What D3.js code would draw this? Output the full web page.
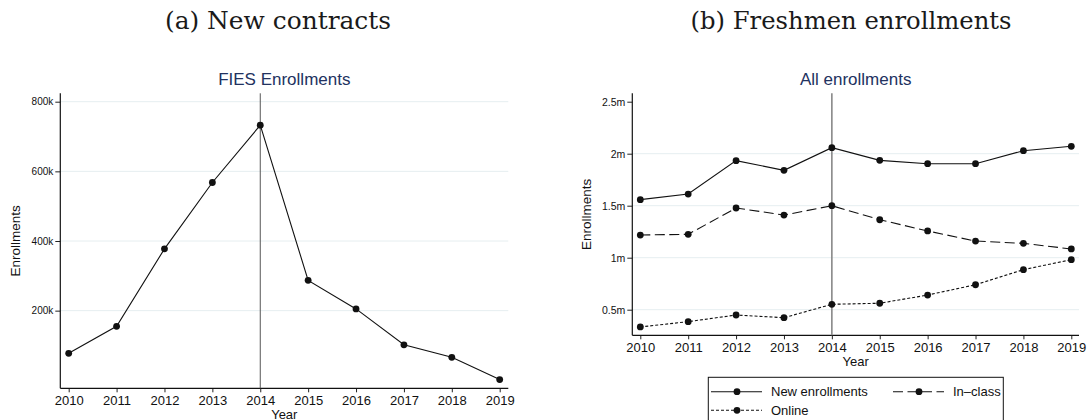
<!DOCTYPE html>
<html>
<head>
<meta charset="utf-8">
<style>
  body { margin: 0; background: white; }
  svg text { font-family: "Liberation Sans", Arial, sans-serif; fill: #111; }
</style>
</head>
<body>
<svg id="draw" width="1087" height="420"></svg>

<script src="https://cdn.jsdelivr.net/npm/d3@7/dist/d3.min.js"></script>

<script>
    var years = [2010, 2011, 2012, 2013, 2014, 2015, 2016, 2017, 2018, 2019];
    var fiesEnroll = [77500, 155000, 377500, 568000, 732500, 287000, 205000, 102000, 66000, 2000];
    var newEnroll = [1558000, 1612000, 1933000, 1840000, 2058000, 1936000, 1904000, 1904000, 2029000, 2071000];
    var inClass = [1218000, 1225000, 1478000, 1410000, 1500000, 1365000, 1257000, 1160000, 1138000, 1084000];
    var online = [334000, 385000, 449000, 423000, 552000, 562000, 641000, 740000, 885000, 981000];
    var leftTicks = [200000, 400000, 600000, 800000];
    var rightTicks = [500000, 1000000, 1500000, 2000000, 2500000];
    var rightGrid = [500000, 1000000, 1500000, 2000000];
    var eventYear = 2014;

    var titleColor = "#22325f";
    var gridColor = "#e6eef0";
    var markerR = 3.4;

    const svg = d3.select("svg#draw");

    // sub captions (latex style)
    svg.append("text").attr("x", 278).attr("y", 29).attr("text-anchor", "middle")
        .style("font-family", "'DejaVu Serif', serif").style("font-size", "23.5px")
        .style("fill", "#1a1a1a")
        .attr("textLength", 226).attr("lengthAdjust", "spacingAndGlyphs")
        .text("(a) New contracts");
    svg.append("text").attr("x", 851).attr("y", 29).attr("text-anchor", "middle")
        .style("font-family", "'DejaVu Serif', serif").style("font-size", "23.5px")
        .style("fill", "#1a1a1a")
        .attr("textLength", 321).attr("lengthAdjust", "spacingAndGlyphs")
        .text("(b) Freshmen enrollments");

    function panel(cfg) {
        var g = svg.append("g");
        var x = d3.scaleLinear().domain([2010, 2019]).range(cfg.xr);
        var y = d3.scaleLinear().domain(cfg.yd).range(cfg.yr);

        g.selectAll("line.grid").data(cfg.grid).enter().append("line")
            .attr("class", "grid")
            .attr("x1", cfg.left).attr("x2", cfg.right)
            .attr("y1", d => y(d)).attr("y2", d => y(d))
            .attr("stroke", gridColor).attr("stroke-width", 1);

        var yAxis = g.append("g")
            .attr("transform", `translate(${cfg.left},0)`)
            .call(d3.axisLeft(y).tickValues(cfg.ticks).tickFormat(cfg.fmt).tickSize(5).tickPadding(2));
        yAxis.select(".domain").remove();
        yAxis.selectAll("text").style("font-size", cfg.yFont).attr("fill", "#222")
            .style("font-family", "'Liberation Sans', Arial, sans-serif");
        yAxis.selectAll("line").attr("stroke", "#222");

        var xAxis = g.append("g")
            .attr("transform", `translate(0,${cfg.bottom})`)
            .call(d3.axisBottom(x).tickValues(years).tickFormat(d3.format("d")).tickSize(4).tickPadding(3));
        xAxis.select(".domain").remove();
        xAxis.selectAll("text").style("font-size", "13px").attr("fill", "#111")
            .style("font-family", "'Liberation Sans', Arial, sans-serif");
        xAxis.selectAll("line").attr("stroke", "#222");

        g.append("line")
            .attr("x1", cfg.left).attr("x2", cfg.left)
            .attr("y1", cfg.top).attr("y2", cfg.bottom)
            .attr("stroke", "#111").attr("stroke-width", 1.2);
        g.append("line")
            .attr("x1", cfg.left).attr("x2", cfg.right)
            .attr("y1", cfg.bottom).attr("y2", cfg.bottom)
            .attr("stroke", "#111").attr("stroke-width", 1.2);

        g.append("line")
            .attr("x1", x(eventYear)).attr("x2", x(eventYear))
            .attr("y1", cfg.top).attr("y2", cfg.bottom)
            .attr("stroke", cfg.vColor).attr("stroke-width", cfg.vWidth);

        var line = d3.line().x((d, i) => x(years[i])).y(d => y(d));
        cfg.series.forEach(s => {
            g.append("path")
                .datum(s.values)
                .attr("fill", "none")
                .attr("stroke", "#111")
                .attr("stroke-width", 1.1)
                .attr("stroke-dasharray", s.dash)
                .attr("d", line);
            g.selectAll(null).data(s.values).enter().append("circle")
                .attr("cx", (d, i) => x(years[i]))
                .attr("cy", d => y(d))
                .attr("r", markerR)
                .attr("fill", "#111");
        });

        g.append("text")
            .attr("x", (cfg.left + cfg.right) / 2).attr("y", 85)
            .attr("text-anchor", "middle")
            .style("font-size", "17px").attr("fill", titleColor).style("fill", titleColor)
            .text(cfg.title);
        g.append("text")
            .attr("x", (cfg.left + cfg.right) / 2).attr("y", Math.min(cfg.bottom + 31, 418.5))
            .attr("text-anchor", "middle")
            .style("font-size", "13px")
            .text("Year");
        g.append("text")
            .attr("transform", `translate(${cfg.ylabX},${(cfg.top + cfg.bottom) / 2}) rotate(-90)`)
            .attr("text-anchor", "middle")
            .attr("dy", "0.35em")
            .style("font-size", "13.5px")
            .text("Enrollments");
        return g;
    }

    panel({
        left: 60.3, right: 508.3, top: 93.3, bottom: 388.3,
        xr: [68.7, 499.7], yd: [0, 800000], yr: [380.3, 101.7],
        ticks: leftTicks, grid: leftTicks, fmt: d => d / 1000 + "k", yFont: "10px",
        vColor: "#555", vWidth: 1,
        title: "FIES Enrollments", ylabX: 15,
        series: [{ values: fiesEnroll, dash: null }]
    });

    panel({
        left: 632.3, right: 1079, top: 93.3, bottom: 335.3,
        xr: [640.3, 1071.3], yd: [0, 2500000], yr: [361.7, 101.7],
        ticks: rightTicks, grid: rightGrid, fmt: d => d / 1000000 + "m", yFont: "10.5px",
        vColor: "#888", vWidth: 1.6,
        title: "All enrollments", ylabX: 586.7,
        series: [
            { values: newEnroll, dash: null },
            { values: inClass, dash: "10,4.5" },
            { values: online, dash: "3,2" }
        ]
    });

    // legend
    var legendItems = [
        { label: "New enrollments", dash: null, x: 711, y: 391.7 },
        { label: "In\u2013class", dash: "10,4.5", x: 893, y: 391.7 },
        { label: "Online", dash: "3,2", x: 711, y: 410.3 }
    ];
    var legend = svg.append("g");
    legend.append("rect")
        .attr("x", 708.3).attr("y", 377.3)
        .attr("width", 295).attr("height", 60)
        .attr("fill", "white").attr("stroke", "#111").attr("stroke-width", 1);
    var li = legend.selectAll("g.item").data(legendItems).enter().append("g")
        .attr("transform", d => `translate(${d.x},${d.y})`);
    li.append("line")
        .attr("x1", 0).attr("x2", 51).attr("y1", 0).attr("y2", 0)
        .attr("stroke", "#111").attr("stroke-width", 1.1)
        .attr("stroke-dasharray", d => d.dash);
    li.append("circle").attr("cx", 26).attr("cy", 0).attr("r", markerR).attr("fill", "#111");
    li.append("text")
        .attr("x", 60).attr("dy", "0.35em")
        .style("font-size", "13px")
        .text(d => d.label);
</script>
</body>
</html>
